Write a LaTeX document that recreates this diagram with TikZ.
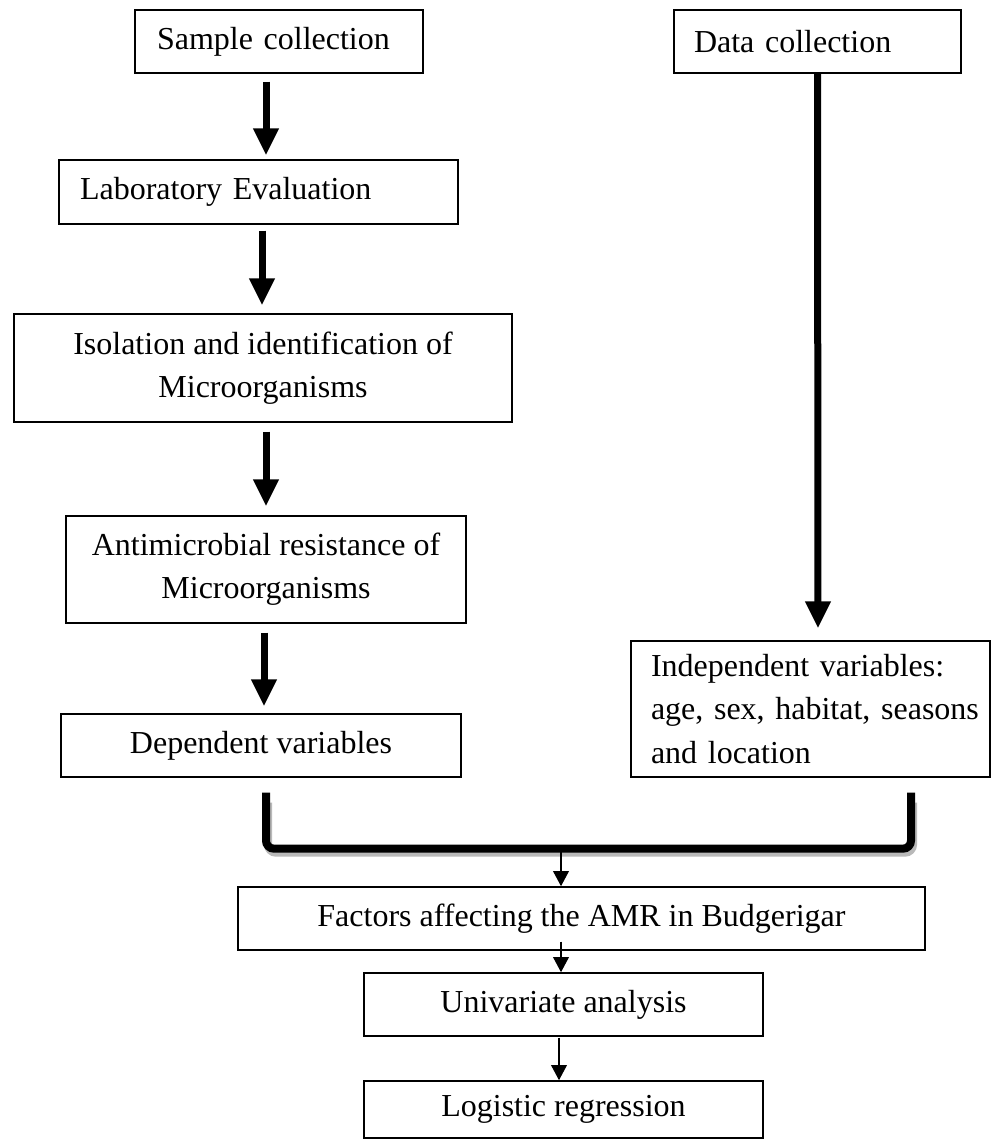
\documentclass[tikz,border=0pt]{standalone}
\usepackage{fontspec}
\setmainfont{Liberation Serif}
\usetikzlibrary{arrows.meta}
\begin{document}
\begin{tikzpicture}[x=0.75pt,y=-0.75pt,
  box/.style={draw=black, line width=1pt, rectangle, inner sep=0pt, align=center,
    font=\fontsize{24pt}{32.5pt}\selectfont},
  lbox/.style={box, align=left},
  bigarrow/.style={line width=5.25pt, -{Triangle[width=18pt,length=20.25pt]}},
  thinarrow/.style={line width=2.2pt, -{Triangle[width=11.5pt,length=11.5pt]}},
  bracketline/.style={line width=6pt, rounded corners=6pt},
  bracketshadow/.style={line width=6pt, rounded corners=6pt, draw=gray!55}
]
\useasboundingbox (0,0) rectangle (992,1140);
\fill[white] (0,0) rectangle (992,1140);

% boxes
\node[lbox, inner xsep=16.5pt, text width=183pt, minimum height=47.25pt] (sample) at (279,41.5) {Sample collection};
\node[lbox, inner xsep=15pt, text width=185.25pt, minimum height=47.25pt] (data) at (817.5,41.5) {Data collection};
\node[lbox, inner xsep=15.75pt, text width=267.75pt, minimum height=48pt] (lab) at (258.5,192) {Laboratory Evaluation};
\node[box, minimum width=373.5pt, minimum height=81pt] (iso) at (263,368) {Isolation and identification of\\Microorganisms};
\node[box, minimum width=300pt, minimum height=80.25pt] (anti) at (266,569.5) {Antimicrobial resistance of\\Microorganisms};
\node[box, minimum width=300pt, minimum height=47.25pt] (dep) at (261,745.5) {Dependent variables};
\node[lbox, inner xsep=15pt, text width=239.25pt, minimum height=102pt] (ind) at (810.5,709) {Independent variables:\\\mbox{age, sex, habitat, seasons}\\and location};
\node[box, minimum width=515.25pt, minimum height=47.25pt] (fac) at (581.5,918.5) {Factors affecting the AMR in Budgerigar};
\node[box, minimum width=299.25pt, minimum height=47.25pt] (uni) at (563.5,1004.5) {Univariate analysis};
\node[box, minimum width=299.25pt, minimum height=42.75pt] (logr) at (563.5,1109.5) {Logistic regression};

% thick arrows
\draw[bigarrow] ([shift={(-13,8)}]sample.south) -- ([shift={(7.5,-4)}]lab.north);
\draw[bigarrow] ([shift={(3.5,6)}]lab.south) -- ([shift={(-1,-8)}]iso.north);
\draw[bigarrow] ([shift={(3,9)}]iso.south) -- ([shift={(0,-9)}]anti.north);
\draw[bigarrow] ([shift={(-2,9)}]anti.south) -- ([shift={(3,-7)}]dep.north);
\draw[bigarrow] (data.south) -- ([shift={(7.5,-12)}]ind.north);

% bracket joining dependent and independent variables (with its grey shadow)
\draw[bracketshadow] ([shift={(7,25)}]dep.south) -- ([shift={(7,75)}]dep.south)
  -- ([shift={(102.5,75)}]ind.south) -- ([shift={(102.5,25)}]ind.south);
\draw[bracketline] ([shift={(5,15)}]dep.south) -- ([shift={(5,71)}]dep.south)
  -- ([shift={(100.5,71)}]ind.south) -- ([shift={(100.5,15)}]ind.south);
\coordinate (join) at (561,851);

% thin arrows
\draw[thinarrow] (join) -- ([shift={(-20.5,0)}]fac.north);
\draw[thinarrow] ([shift={(-20.5,-9)}]fac.south) -- ([shift={(-2.5,0)}]uni.north);
\draw[thinarrow] ([shift={(-4.5,1)}]uni.south) -- ([shift={(-4.5,0)}]logr.north);
\end{tikzpicture}
\end{document}
